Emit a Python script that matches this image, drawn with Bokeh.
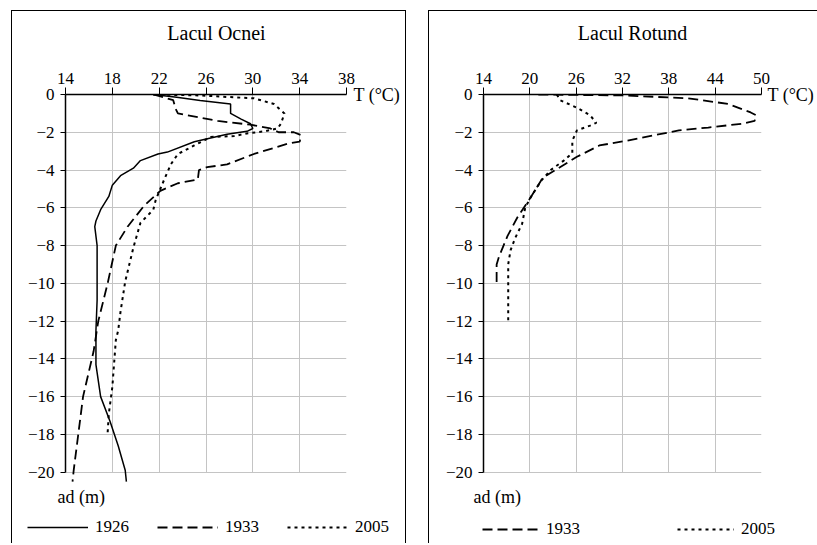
from bokeh.plotting import figure
from bokeh.layouts import row, column
from bokeh.models import Legend, LegendItem, FixedTicker, LinearAxis, Label
from bokeh.embed import file_html
from bokeh.resources import INLINE

# ---------------- data ----------------
# Lacul Ocnei: temperature (degC) vs depth (m)
ocnei_1926_t = [21.5, 23.5, 25.5, 28.1, 28.1, 29.0, 29.8, 30.0, 29.5, 27.8, 26.4, 25.0, 22.7, 21.9,
                20.4, 19.8, 18.7, 18.0, 17.7, 17.0, 16.6, 16.5, 16.7, 16.7, 16.6, 16.6, 17.0, 17.8,
                18.5, 19.1, 19.2]
ocnei_1926_d = [0, -0.15, -0.32, -0.5, -1.0, -1.3, -1.55, -1.8, -1.95, -2.1, -2.3, -2.5, -3.05, -3.15,
                -3.5, -3.9, -4.3, -4.8, -5.4, -6.1, -6.7, -7.0, -8.0, -10.9, -12.5, -14.3, -16.0, -17.3,
                -18.6, -19.9, -20.5]

ocnei_1933_t = [21.5, 22.4, 23.2, 23.4, 23.6, 24.4, 27.0, 29.8, 31.5, 32.2, 33.5, 34.1, 34.1, 34.0,
                33.0, 30.1, 27.8, 26.1, 25.4, 25.3, 23.6, 22.1, 20.7, 19.3, 18.3, 17.6, 16.8, 16.4,
                15.5, 14.7, 14.6]
ocnei_1933_d = [0, -0.15, -0.3, -0.75, -1.0, -1.1, -1.4, -1.6, -1.8, -2.0, -2.0, -2.15, -2.25, -2.5,
                -2.6, -3.15, -3.7, -3.85, -4.0, -4.5, -4.7, -5.1, -5.9, -7.0, -8.0, -10.0, -12.0, -13.6,
                -16.0, -19.9, -20.5]

ocnei_2005_t = [21.5, 25.5, 28.4, 30.1, 31.8, 32.7, 32.4, 32.1, 31.0, 29.6, 28.4, 26.4, 25.0, 23.6,
                23.0, 22.5, 22.1, 21.7, 21.5, 20.4, 19.8, 19.1, 18.7, 18.5, 18.3, 18.0, 17.7, 17.6]
ocnei_2005_d = [0, -0.05, -0.15, -0.2, -0.5, -1.0, -1.55, -1.8, -1.95, -2.05, -2.2, -2.25, -2.7, -3.15,
                -3.7, -4.4, -5.0, -5.6, -6.1, -6.8, -8.1, -9.9, -11.5, -12.5, -13.0, -15.5, -16.9, -17.9]

# Lacul Rotund
rotund_1933_t = [21.1, 32.0, 40.5, 45.7, 48.6, 49.3, 49.1, 47.4, 43.1, 39.3, 32.5, 29.0, 26.1, 23.9,
                 21.7, 20.1, 18.4, 17.1, 16.0, 15.7, 15.7]
rotund_1933_d = [0, -0.05, -0.2, -0.5, -0.95, -1.1, -1.4, -1.55, -1.75, -1.9, -2.45, -2.7, -3.3, -3.85,
                 -4.4, -5.45, -6.5, -7.5, -8.6, -9.0, -10.0]

rotund_2005_t = [23.5, 23.9, 26.1, 27.8, 28.6, 27.8, 26.1, 25.5, 25.5, 24.4, 22.7, 21.5, 20.1, 19.4,
                 19.0, 18.1, 17.5, 17.2, 17.2]
rotund_2005_d = [0, -0.3, -0.7, -1.1, -1.5, -1.65, -1.9, -2.45, -3.1, -3.5, -4.0, -4.55, -5.45, -6.0,
                 -6.85, -7.6, -8.25, -9.0, -12.0]

ocnei_xticks = [14, 18, 22, 26, 30, 34, 38]
rotund_xticks = [14, 20, 26, 32, 38, 44, 50]
depth_ticks = [0, -2, -4, -6, -8, -10, -12, -14, -16, -18, -20]

titles = ["Lacul Ocnei", "Lacul Rotund"]
x_label = "T (°C)"
y_label = "ad (m)"

# ---------------- styling ----------------
FONT = "Liberation Serif"
SOLID = dict(line_color="black", line_width=1.5)
DASH = dict(line_color="black", line_width=1.8, line_dash="10 5")
DOT = dict(line_color="black", line_width=2, line_dash="3 4")

FRAME_W, FRAME_H = 281, 389
Y0, Y1 = -20.6, 0
HEAD_H = 40
MAIN_TOP = 43
MAIN_BOTTOM = 2
MAIN_H = MAIN_TOP + FRAME_H + MAIN_BOTTOM
FOOT_H = 58
NAN = float("nan")


def strip(width, height):
    """A pixel-scaled strip (frame = whole canvas) for captions and the legend."""
    s = figure(width=width, height=height, x_range=(0, width), y_range=(0, height),
               x_axis_location=None, y_axis_location=None, output_backend="svg",
               toolbar_location=None, min_border=0, title=None, frame_align=False)
    s.outline_line_color = None
    s.grid.visible = False
    s.background_fill_color = "white"
    s.border_fill_color = "white"
    return s


def make_panel(xticks, title, series, width, min_left, border_css, legend_loc, legend_spacing,
               glyph_w, title_x, ylab_x, tlab_standoff):
    x0, x1 = xticks[0], xticks[-1]

    # header with the lake name
    h = strip(width, HEAD_H)
    h.add_layout(Label(x=title_x, y=19, text=title, text_font=FONT, text_font_size="20px",
                       text_color="black", text_align="center", text_baseline="middle"))

    # main chart
    p = figure(width=width, height=MAIN_H, x_range=(x0, x1), y_range=(Y0, Y1),
               x_axis_location="above", output_backend="svg", toolbar_location=None,
               min_border_left=min_left, min_border_right=width - min_left - FRAME_W,
               min_border_top=MAIN_TOP, min_border_bottom=MAIN_BOTTOM, title=None,
               frame_align=False)
    p.outline_line_color = None
    p.background_fill_color = "white"
    p.border_fill_color = "white"

    for axes in (p.xaxis, p.yaxis):
        axes.axis_line_color = "black"
        axes.axis_line_width = 1.5
        axes.major_tick_line_color = "black"
        axes.major_tick_line_width = 1
        axes.major_tick_in = 0
        axes.minor_tick_line_color = None
        axes.major_label_text_font = FONT
        axes.major_label_text_font_size = "17px"
        axes.major_label_text_color = "black"
    p.xaxis.ticker = FixedTicker(ticks=xticks)
    p.xaxis.major_tick_out = 7
    p.xaxis.major_label_standoff = 4
    p.yaxis.ticker = FixedTicker(ticks=depth_ticks)
    p.yaxis.major_tick_out = 5
    p.yaxis.major_label_standoff = 6
    p.yaxis.bounds = (-20, 0)

    p.xgrid.ticker = FixedTicker(ticks=xticks)
    p.ygrid.ticker = FixedTicker(ticks=depth_ticks)
    for g in (p.xgrid[0], p.ygrid[0]):
        g.grid_line_color = "#c4c4c4"
        g.grid_line_width = 1
    try:
        p.xgrid[0].cross_bounds = (-20, 0)
    except Exception:
        pass

    # "T (°C)" caption beside the top axis: a label-only right axis at depth 0
    t_axis = LinearAxis(ticker=FixedTicker(ticks=[0]), major_label_overrides={0: x_label},
                        axis_line_color=None, major_tick_line_color=None, minor_tick_line_color=None,
                        major_tick_out=0, major_tick_in=0, major_label_standoff=tlab_standoff,
                        major_label_text_font=FONT, major_label_text_font_size="18px",
                        major_label_text_color="black")
    p.add_layout(t_axis, "right")

    for name, t, d, style in series:
        p.line(t, d, **style)

    # footer with the depth caption and the legend
    f = strip(width, FOOT_H)
    f.add_layout(Label(x=ylab_x, y=47, text=y_label, text_font=FONT, text_font_size="18px",
                       text_color="black", text_baseline="middle"))
    items = []
    for name, t, d, style in series:
        proxy = f.line([NAN], [NAN], **style)   # legend key only
        items.append(LegendItem(label=name, renderers=[proxy]))
    leg = Legend(items=items, location=legend_loc, orientation="horizontal",
                 padding=0, margin=0, spacing=legend_spacing, glyph_width=glyph_w,
                 glyph_height=16, label_height=16, label_standoff=7,
                 border_line_color=None, background_fill_alpha=0,
                 label_text_font=FONT, label_text_font_size="17px", label_text_color="black")
    f.add_layout(leg, "center")
    return column(h, p, f, spacing=0, styles=border_css)


c1 = make_panel(ocnei_xticks, titles[0],
                [("1926", ocnei_1926_t, ocnei_1926_d, SOLID),
                 ("1933", ocnei_1933_t, ocnei_1933_d, DASH),
                 ("2005", ocnei_2005_t, ocnei_2005_d, DOT)],
                width=393, min_left=53,
                border_css={"border-left": "1px solid black", "border-top": "1px solid black",
                            "border-right": "1px solid black"},
                legend_loc=(15, 6), legend_spacing=28, glyph_w=61, title_x=204,
                ylab_x=45, tlab_standoff=7)
c1.margin = (10, 0, 0, 11)

c2 = make_panel(rotund_xticks, titles[1],
                [("1933", rotund_1933_t, rotund_1933_d, DASH),
                 ("2005", rotund_2005_t, rotund_2005_d, DOT)],
                width=388, min_left=54,
                border_css={"border-left": "1px solid black", "border-top": "1px solid black"},
                legend_loc=(53, 4), legend_spacing=97, glyph_w=57, title_x=203,
                ylab_x=44, tlab_standoff=6)
c2.margin = (10, 0, 0, 0)

layout = row(c1, c2, spacing=22)
open("out.html", "w").write(file_html(layout, INLINE))
